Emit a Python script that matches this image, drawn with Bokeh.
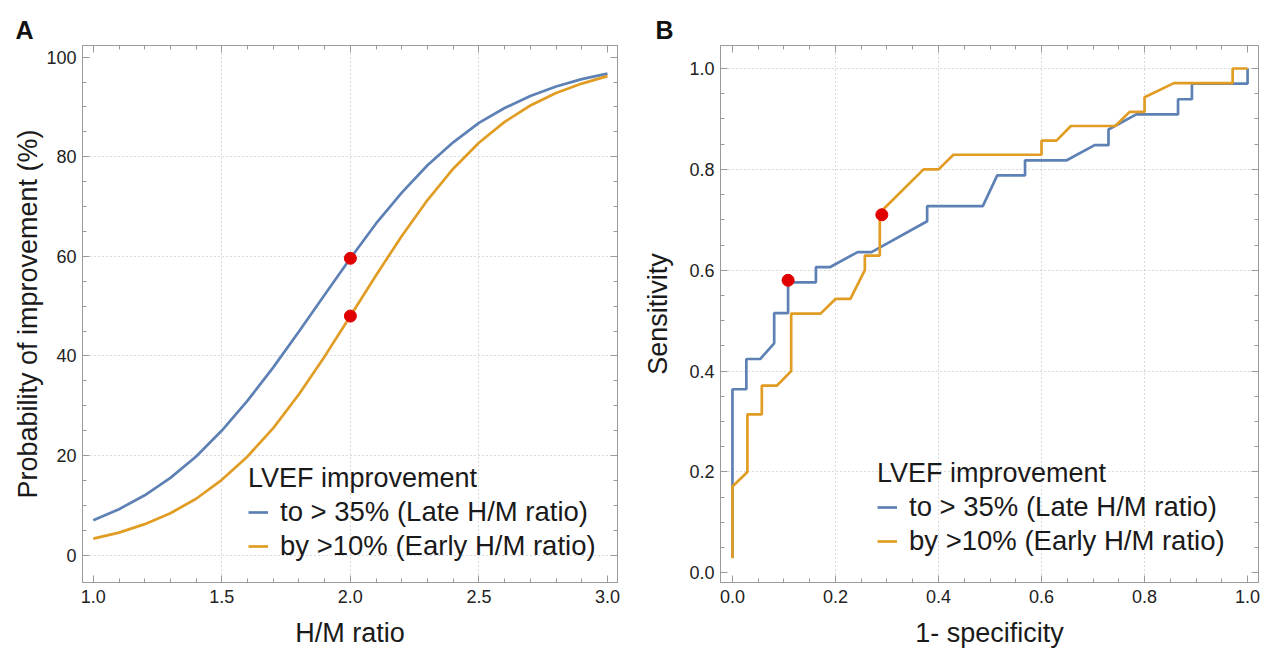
from bokeh.plotting import figure
from bokeh.layouts import row
from bokeh.models import (Range1d, FixedTicker, LinearAxis, Legend, LegendItem,
                          PrintfTickFormatter, CustomJSTickFormatter)
from bokeh.embed import file_html
from bokeh.resources import INLINE

# ---------------- data ----------------
hm_ratio = [1.0, 1.1, 1.2, 1.3, 1.4, 1.5, 1.6, 1.7, 1.8, 1.9, 2.0,
            2.1, 2.2, 2.3, 2.4, 2.5, 2.6, 2.7, 2.8, 2.9, 3.0]
prob_late = [7.0, 9.2, 12.0, 15.5, 19.8, 25.0, 31.0, 37.7, 44.9, 52.3, 59.6,
             66.6, 72.8, 78.3, 82.9, 86.8, 89.8, 92.2, 94.1, 95.6, 96.7]
prob_early = [3.3, 4.5, 6.2, 8.4, 11.3, 15.1, 19.8, 25.5, 32.3, 39.9, 48.0,
              56.2, 64.1, 71.3, 77.6, 82.8, 87.0, 90.3, 92.8, 94.7, 96.2]
cut_hm = [2.0, 2.0]
cut_prob = [59.6, 48.0]

blue_fpr = [0.0, 0.0, 0.027, 0.027, 0.054, 0.081, 0.081, 0.108, 0.108, 0.162, 0.162,
            0.189, 0.243, 0.270, 0.378, 0.378, 0.486, 0.514, 0.568, 0.568, 0.649,
            0.703, 0.730, 0.730, 0.784, 0.865, 0.865, 0.892, 0.892, 1.0, 1.0]
blue_tpr = [0.030, 0.364, 0.364, 0.424, 0.424, 0.455, 0.515, 0.515, 0.576, 0.576, 0.606,
            0.606, 0.636, 0.636, 0.697, 0.727, 0.727, 0.788, 0.788, 0.818, 0.818,
            0.848, 0.848, 0.879, 0.909, 0.909, 0.939, 0.939, 0.970, 0.970, 1.0]
orange_fpr = [0.0, 0.0, 0.029, 0.029, 0.057, 0.057, 0.086, 0.114, 0.114, 0.171, 0.200,
              0.229, 0.257, 0.257, 0.286, 0.286, 0.371, 0.400, 0.429, 0.600, 0.600,
              0.629, 0.657, 0.743, 0.771, 0.800, 0.800, 0.857, 0.971, 0.971, 1.0]
orange_tpr = [0.029, 0.171, 0.200, 0.314, 0.314, 0.371, 0.371, 0.400, 0.514, 0.514, 0.543,
              0.543, 0.600, 0.629, 0.629, 0.714, 0.800, 0.800, 0.829, 0.829, 0.857,
              0.857, 0.886, 0.886, 0.914, 0.914, 0.943, 0.971, 0.971, 1.0, 1.0]
cut_fpr = [0.108, 0.29]
cut_tpr = [0.58, 0.71]

legend_title = "LVEF improvement"
label_late = "to > 35% (Late H/M ratio)"
label_early = "by >10% (Early H/M ratio)"

a_xticks = [1.0, 1.5, 2.0, 2.5, 3.0]
a_yticks = [0, 20, 40, 60, 80, 100]
b_ticks = [0.0, 0.2, 0.4, 0.6, 0.8, 1.0]

# ---------------- style ----------------
FONT = "Liberation Sans"
BLUE = "#5E81B5"
ORANGE = "#E19C24"
RED = "#E00000"
FRAME = "#9a9a9a"
GRID = "#b4b4b4"
BLANK = CustomJSTickFormatter(code="return ''")


def tick_style(ax):
    ax.axis_line_color = FRAME
    ax.major_tick_line_color = FRAME
    ax.minor_tick_line_color = FRAME
    ax.major_tick_in = 7
    ax.major_tick_out = 0
    ax.minor_tick_in = 4
    ax.minor_tick_out = 0


def style(p, xt, xminor, yt, yminor, xfmt, yfmt, xgrid, ygrid, xls, yls):
    bottom = p.below[0]
    left = p.left[0]
    bottom.ticker = FixedTicker(ticks=xt, minor_ticks=xminor)
    left.ticker = FixedTicker(ticks=yt, minor_ticks=yminor)
    bottom.formatter = PrintfTickFormatter(format=xfmt)
    left.formatter = PrintfTickFormatter(format=yfmt)
    top = LinearAxis(ticker=FixedTicker(ticks=xt, minor_ticks=xminor),
                     formatter=BLANK, major_label_standoff=6,
                     major_label_text_font_size="1px")
    right = LinearAxis(ticker=FixedTicker(ticks=yt, minor_ticks=yminor),
                       formatter=BLANK, major_label_standoff=0,
                       major_label_text_font_size="1px")
    p.add_layout(top, "above")
    p.add_layout(right, "right")
    for ax in (bottom, left, top, right):
        tick_style(ax)
    for ax in (bottom, left):
        ax.major_label_text_font = FONT
        ax.major_label_text_font_size = "18px"
        ax.major_label_text_color = "#222222"
        ax.axis_label_text_font = FONT
        ax.axis_label_text_font_style = "normal"
        ax.axis_label_text_color = "#1a1a1a"
        ax.axis_label_text_font_size = "27px"
    bottom.major_label_standoff = 7
    left.major_label_standoff = 6
    bottom.axis_label_standoff = xls
    left.axis_label_standoff = yls
    p.xgrid.ticker = FixedTicker(ticks=xgrid)
    p.ygrid.ticker = FixedTicker(ticks=ygrid)
    p.grid.grid_line_color = GRID
    p.grid.grid_line_dash = "1 3"
    p.grid.grid_line_width = 1
    p.outline_line_color = FRAME
    p.background_fill_color = "white"
    p.border_fill_color = "white"


def panel_title(p, txt, offset, standoff):
    p.title.text = txt
    p.title.text_font = FONT
    p.title.text_font_size = "25px"
    p.title.text_font_style = "bold"
    p.title.text_color = "#111111"
    p.title.align = "left"
    p.title.vertical_align = "top"
    p.title.offset = offset
    p.title.standoff = standoff


def make_legend(p, r1, r2, loc):
    leg = Legend(items=[LegendItem(label=label_late, renderers=[r1]),
                        LegendItem(label=label_early, renderers=[r2])],
                 title=legend_title, location=loc)
    leg.title_text_font = FONT
    leg.title_text_font_size = "27px"
    leg.title_text_font_style = "normal"
    leg.title_text_color = "#1a1a1a"
    leg.title_standoff = 2
    leg.label_text_font = FONT
    leg.label_text_font_size = "27.5px"
    leg.label_text_color = "#1a1a1a"
    leg.glyph_width = 20
    leg.label_standoff = 12
    leg.spacing = 2
    leg.padding = 0
    leg.margin = 0
    leg.border_line_alpha = 0
    leg.background_fill_alpha = 0
    p.add_layout(leg, "center")


# ---------------- panel A ----------------
pa = figure(width=640, height=654, x_range=Range1d(0.958, 3.039),
            y_range=Range1d(-5.52, 102.35), output_backend="svg",
            toolbar_location=None, min_border_left=82, min_border_right=23,
            min_border_top=45, min_border_bottom=72,
            x_axis_label="H/M ratio", y_axis_label="Probability of improvement (%)")
style(pa, a_xticks, [round(1.0 + 0.1 * i, 2) for i in range(21)], a_yticks,
      list(range(0, 101, 5)), "%.1f", "%d", [1.5, 2.0, 2.5], [0, 20, 40, 60, 80], 12, 0)
panel_title(pa, "A", -67, 0)
ra1 = pa.line(hm_ratio, prob_late, line_color=BLUE, line_width=2.7)
ra2 = pa.line(hm_ratio, prob_early, line_color=ORANGE, line_width=2.7)
pa.scatter(cut_hm, cut_prob, size=12, fill_color=RED, line_color=RED)
make_legend(pa, ra1, ra2, (166, 20))

# ---------------- panel B ----------------
pb = figure(width=620, height=654, x_range=Range1d(-0.0232, 1.0212),
            y_range=Range1d(-0.0192, 1.0456), output_backend="svg",
            toolbar_location=None, min_border_left=77, min_border_right=2,
            min_border_top=45, min_border_bottom=72,
            x_axis_label="1- specificity", y_axis_label="Sensitivity")
minor_b = [round(0.05 * i, 2) for i in range(21)]
style(pb, b_ticks, minor_b, b_ticks, minor_b, "%.1f", "%.1f",
      [0.2, 0.4, 0.6, 0.8], [0.2, 0.4, 0.6, 0.8, 1.0], 12, 13)
panel_title(pb, "B", -65, 0)
rb1 = pb.line(blue_fpr, blue_tpr, line_color=BLUE, line_width=2.7)
rb2 = pb.line(orange_fpr, orange_tpr, line_color=ORANGE, line_width=2.7)
pb.scatter(cut_fpr, cut_tpr, size=12, fill_color=RED, line_color=RED)
make_legend(pb, rb1, rb2, (157, 25))

layout = row(pa, pb)
open("out.html", "w").write(file_html(layout, INLINE))
